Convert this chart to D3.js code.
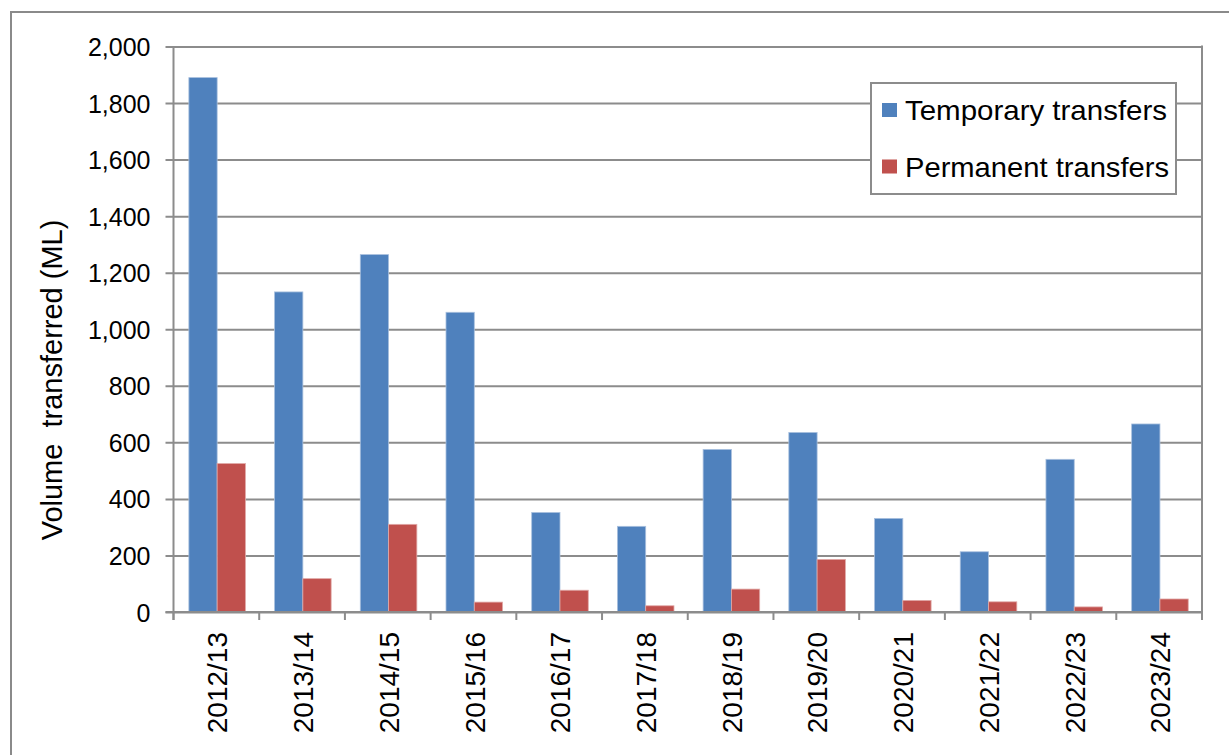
<!DOCTYPE html>
<html>
<head>
<meta charset="utf-8">
<script src="https://cdn.jsdelivr.net/npm/d3@7"></script>
<style>
  html, body { margin: 0; padding: 0; background: #fff; }
  svg { display: block; font-family: "Liberation Sans", Arial, sans-serif; }
</style>
</head>
<body>
<svg id="chart" width="1229" height="755"></svg>
<script>
const categories = ["2012/13","2013/14","2014/15","2015/16","2016/17","2017/18","2018/19","2019/20","2020/21","2021/22","2022/23","2023/24"];
const temporary = [1890, 1132, 1264, 1060, 352, 303, 575, 635, 331, 213, 540, 665];
const permanent = [525, 118, 310, 35, 77, 22, 81, 186, 41, 36, 18, 46];
const seriesNames = ["Temporary transfers", "Permanent transfers"];
const seriesColors = ["#4f81bd", "#c0504d"];
const yTicks = [0, 200, 400, 600, 800, 1000, 1200, 1400, 1600, 1800, 2000];
const yTitle = "Volume  transferred (ML)";

(function () {
const svg = d3.select("#chart");
const pL = 173.5, pR = 1202, pT = 46.5, pB = 612;
const gridColor = "#8c8c8c";

// outer frame
svg.append("path")
  .attr("d", "M11,760 L11,12 L1235,12")
  .attr("fill", "none").attr("stroke", "#8a8a8a").attr("stroke-width", 2);

const x0 = d3.scaleBand().domain(categories).range([pL, pR]).paddingInner(0.34).paddingOuter(0.17);
const x1 = d3.scaleBand().domain([0, 1]).range([0, x0.bandwidth()]);
const y = d3.scaleLinear().domain([0, 2000]).range([pB, pT]);
const step = (pR - pL) / categories.length;

// gridlines + y axis ticks
const yAxis = d3.axisLeft(y).tickValues(yTicks).tickSize(-(pR - pL)).tickPadding(0).tickFormat(d3.format(","));
const gy = svg.append("g").attr("transform", `translate(${pL},0)`).call(yAxis);
gy.select(".domain").remove();
gy.selectAll(".tick line").attr("stroke", gridColor).attr("stroke-width", 2).attr("x1", -8);
gy.selectAll(".tick text").attr("x", -23).attr("fill", "#000").attr("font-size", 25)
  .attr("font-family", "'Liberation Sans', Arial, sans-serif").attr("dy", "0.36em");

// bars
const data = categories.map((c, i) => ({ c, vals: [temporary[i], permanent[i]] }));
const groups = svg.append("g").selectAll("g").data(data).join("g")
  .attr("transform", d => `translate(${x0(d.c) + 0.8},0)`);
groups.selectAll("rect").data(d => d.vals.map((v, k) => ({ v, k }))).join("rect")
  .attr("x", d => x1(d.k))
  .attr("width", x1.bandwidth())
  .attr("y", d => y(d.v))
  .attr("height", d => y(0) - y(d.v))
  .attr("fill", d => seriesColors[d.k])
  .attr("stroke", d => d.k === 0 ? "#a9c0de" : "#e0a9a7")
  .attr("stroke-width", 0.8);

// x axis
const xTickPos = d3.range(categories.length + 1).map(i => pL + i * step);
svg.append("line").attr("x1", pL - 8).attr("x2", pR).attr("y1", pB).attr("y2", pB)
  .attr("stroke", gridColor).attr("stroke-width", 2);
svg.selectAll(".xt").data(xTickPos).join("line").attr("class", "xt")
  .attr("x1", d => d).attr("x2", d => d).attr("y1", pB).attr("y2", pB + 8)
  .attr("stroke", gridColor).attr("stroke-width", 2);
// y axis line and right border
svg.append("line").attr("x1", pL).attr("x2", pL).attr("y1", pT).attr("y2", pB + 8)
  .attr("stroke", gridColor).attr("stroke-width", 2);
svg.append("line").attr("x1", pR).attr("x2", pR).attr("y1", pT - 1).attr("y2", pB + 8)
  .attr("stroke", gridColor).attr("stroke-width", 2);

svg.selectAll(".xl").data(categories).join("text").attr("class", "xl")
  .attr("transform", d => `translate(${x0(d) - x0.step() * 0.17 + step / 2 + 1},${632}) rotate(-90)`)
  .attr("text-anchor", "end").attr("dy", "0.36em")
  .attr("font-size", 28).attr("fill", "#000")
  .text(d => d);

// y title
svg.append("text")
  .attr("transform", `translate(52,380) rotate(-90)`)
  .attr("text-anchor", "middle").attr("dy", "0.36em")
  .attr("font-size", 29).attr("fill", "#000")
  .style("white-space", "pre")
  .text(yTitle);

// legend
const lg = svg.append("g");
lg.append("rect").attr("x", 871).attr("y", 83).attr("width", 305).attr("height", 111)
  .attr("fill", "#fff").attr("stroke", gridColor).attr("stroke-width", 2);
const ly = [110, 166.5];
seriesNames.forEach((n, i) => {
  lg.append("rect").attr("x", 882).attr("y", ly[i] - 7).attr("width", 15).attr("height", 14)
    .attr("fill", seriesColors[i]);
  lg.append("text").attr("x", 905).attr("y", ly[i]).attr("dy", "0.36em")
    .attr("font-size", 28).attr("fill", "#000")
    .attr("textLength", i === 0 ? 262 : 264).attr("lengthAdjust", "spacingAndGlyphs")
    .text(n);
});
})();
</script>
</body>
</html>
